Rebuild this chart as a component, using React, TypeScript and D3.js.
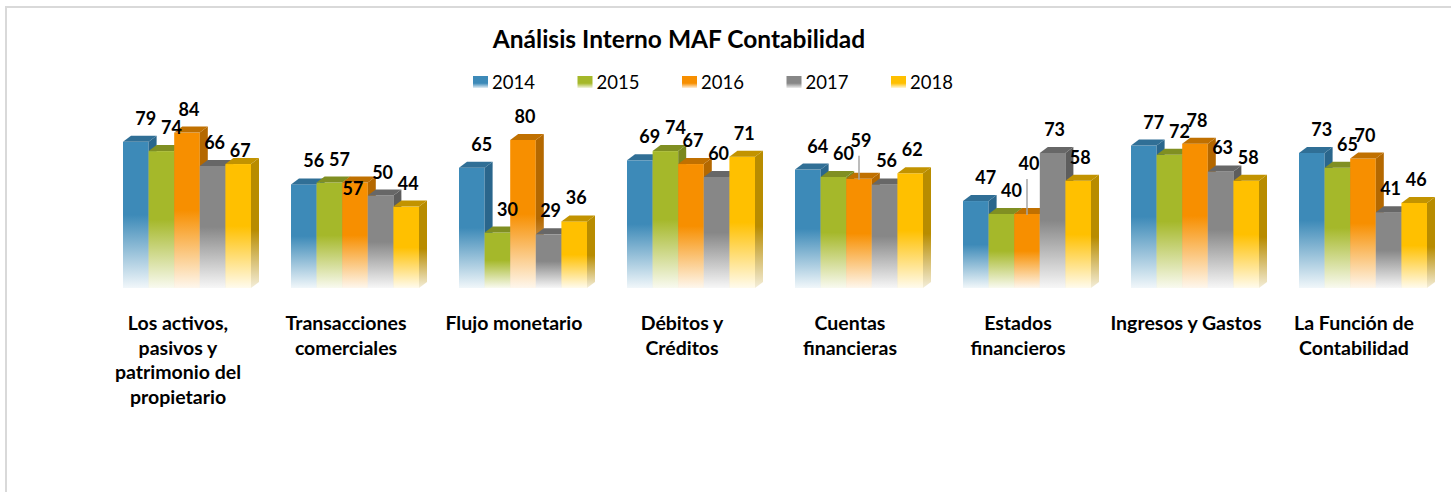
import React from "react";
import * as d3 from "d3";

// chart data
const title = "Análisis Interno MAF Contabilidad";
const years = ["2014", "2015", "2016", "2017", "2018"];
const categories = [
  ["Los activos,", "pasivos y", "patrimonio del", "propietario"],
  ["Transacciones", "comerciales"],
  ["Flujo monetario"],
  ["Débitos y", "Créditos"],
  ["Cuentas", "financieras"],
  ["Estados", "financieros"],
  ["Ingresos y Gastos"],
  ["La Función de", "Contabilidad"],
];
const v2014 = [79, 56, 65, 69, 64, 47, 77, 73];
const v2015 = [74, 57, 30, 74, 60, 40, 72, 65];
const v2016 = [84, 57, 80, 67, 59, 40, 78, 70];
const v2017 = [66, 50, 29, 60, 56, 73, 63, 41];
const v2018 = [67, 44, 36, 71, 62, 58, 58, 46];
const series = [v2014, v2015, v2016, v2017, v2018];

// colours per year: front, side, top
const palette = [
  { front: "#3d8ab8", side: "#2a668c", top: "#306f96" },
  { front: "#a5b82a", side: "#7a881d", top: "#808f22" },
  { front: "#f78f00", side: "#b46800", top: "#c07000" },
  { front: "#878787", side: "#5d5d5d", top: "#676767" },
  { front: "#ffc000", side: "#b88c00", top: "#c29300" },
];

// Excel moved a few labels by hand (category index, series index, dx, dy, leader line)
const labelNudges = [
  { c: 0, s: 4, dx: 0, dy: 10, leader: false },
  { c: 1, s: 2, dx: -4, dy: 29, leader: false },
  { c: 4, s: 2, dx: 0, dy: -15, leader: true },
  { c: 5, s: 2, dx: 0, dy: -27, leader: true },
];
const seriesLabelDx = [10, 10, 2, 2, 2];

const W = 1451;
const H = 492;
const depthX = 8;
const depthY = 6;
const font = "Lato, 'Open Sans', sans-serif";

export default function App() {
  const catKeys = categories.map((c) => c.join(" "));
  const x = d3.scaleBand().domain(catKeys).range([94, 94 + 8 * 168]);
  const inner = d3.scaleBand().domain(years).range([29, 29 + 128]);
  const y = d3.scaleLinear().domain([0, 100]).range([288, 103]);
  const base = y(0);
  const bw = inner.bandwidth();

  const bars = [];
  const labels = [];
  catKeys.forEach((cat, ci) => {
    years.forEach((yr, si) => {
      const v = series[si][ci];
      const x0 = (x(cat) as number) + (inner(yr) as number);
      const yt = y(v);
      const col = palette[si];
      bars.push(
        <g key={`b${ci}-${si}`}>
          <rect x={x0} y={yt} width={bw} height={base - yt} fill={`url(#front${si})`} />
          <polygon
            points={`${x0 + bw},${yt} ${x0 + bw + depthX},${yt - depthY} ${x0 + bw + depthX},${base - depthY} ${x0 + bw},${base}`}
            fill={`url(#side${si})`}
          />
          <polygon
            points={`${x0},${yt} ${x0 + depthX},${yt - depthY} ${x0 + bw + depthX},${yt - depthY} ${x0 + bw},${yt}`}
            fill={col.top}
          />
        </g>
      );
      const n = labelNudges.find((d) => d.c === ci && d.s === si);
      const lx = x0 + bw / 2 + seriesLabelDx[si] + (n ? n.dx : 0);
      const ly = yt - 17 + (n ? n.dy : 0);
      if (n && n.leader) {
        labels.push(
          <line
            key={`l${ci}-${si}`}
            x1={x0 + bw / 2}
            x2={x0 + bw / 2}
            y1={ly + 9}
            y2={yt + 1}
            stroke="#a6a6a6"
            strokeWidth={1.5}
          />
        );
      }
      labels.push(
        <text
          key={`t${ci}-${si}`}
          x={lx}
          y={ly}
          textAnchor="middle"
          fontFamily={font}
          fontWeight="bold"
          fontSize={18}
          fill="#000"
        >
          {v}
        </text>
      );
    });
  });

  return (
    <svg
      width={W}
      height={H}
      style={{ position: "absolute", left: 0, top: 0, background: "#fff" }}
    >
      <defs>
        {palette.map((p, i) => (
          <React.Fragment key={i}>
            <linearGradient id={`front${i}`} x1="0" y1="0" x2="0" y2="1">
              <stop offset="0%" stopColor={p.front} />
              <stop offset="50%" stopColor={p.front} />
              <stop offset="100%" stopColor={d3.interpolateRgb(p.front, "#fff")(0.93)} />
            </linearGradient>
            <linearGradient id={`side${i}`} x1="0" y1="0" x2="0" y2="1">
              <stop offset="0%" stopColor={p.side} />
              <stop offset="55%" stopColor={p.side} />
              <stop offset="100%" stopColor={d3.interpolateRgb(p.side, "#fff")(0.85)} />
            </linearGradient>
            <linearGradient id={`leg${i}`} x1="0" y1="0" x2="0" y2="1">
              <stop offset="0%" stopColor={p.front} />
              <stop offset="60%" stopColor={p.front} />
              <stop offset="100%" stopColor={d3.interpolateRgb(p.front, "#fff")(0.85)} />
            </linearGradient>
          </React.Fragment>
        ))}
      </defs>

      <rect x={6} y={7} width={W + 20} height={H + 20} fill="none" stroke="#d9d9d9" strokeWidth={2} />

      <text
        x={679}
        y={48}
        textAnchor="middle"
        fontFamily={font}
        fontWeight="bold"
        fontSize={24.5}
        fill="#000"
      >
        {title}
      </text>

      {years.map((yr, i) => (
        <g key={yr} transform={`translate(${473 + i * 104.5},76)`}>
          <rect width={15} height={12} fill={`url(#leg${i})`} />
          <text x={19} y={12.5} fontFamily={font} fontSize={18.5} fill="#000">
            {yr}
          </text>
        </g>
      ))}

      {bars}
      {labels}

      {categories.map((lines, ci) => (
        <text
          key={ci}
          x={(x(catKeys[ci]) as number) + x.bandwidth() / 2}
          y={330}
          textAnchor="middle"
          fontFamily={font}
          fontWeight="bold"
          fontSize={19.5}
          fill="#000"
        >
          {lines.map((ln, li) => (
            <tspan key={li} x={(x(catKeys[ci]) as number) + x.bandwidth() / 2} dy={li === 0 ? 0 : 24.5}>
              {ln}
            </tspan>
          ))}
        </text>
      ))}
    </svg>
  );
}
